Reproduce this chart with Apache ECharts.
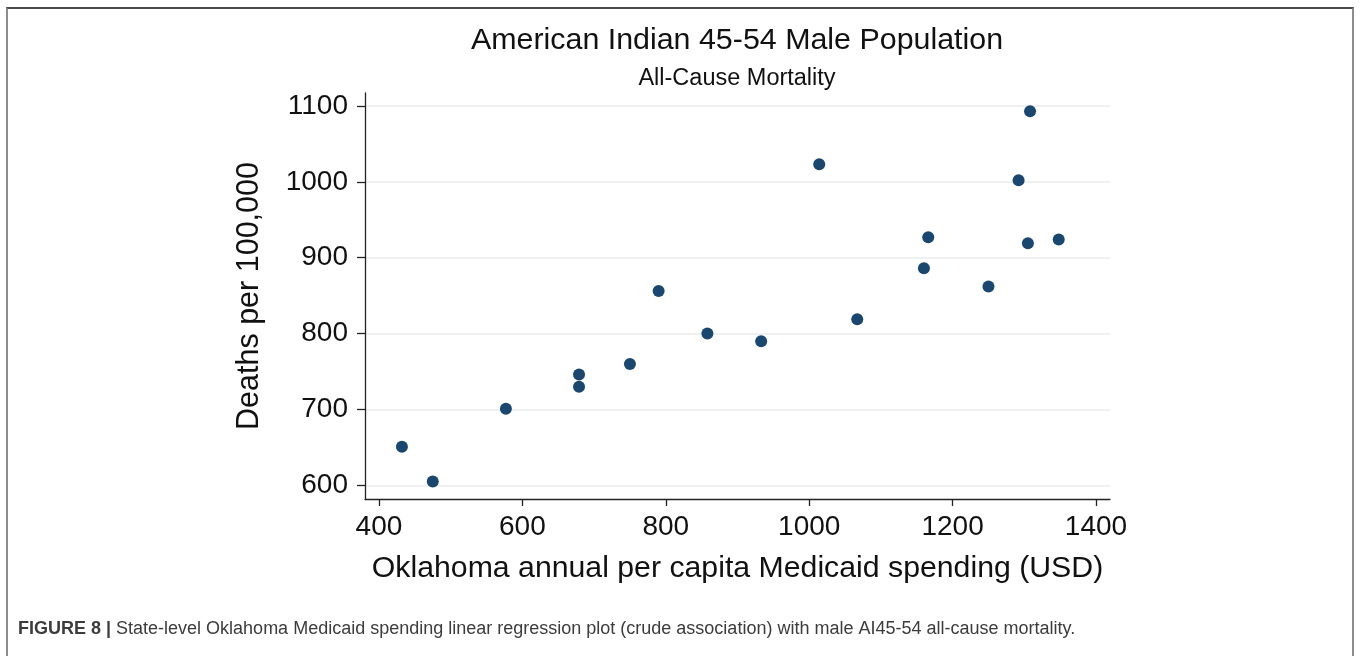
<!DOCTYPE html>
<html>
<head>
<meta charset="utf-8">
<script src="https://cdn.jsdelivr.net/npm/echarts@6/dist/echarts.min.js"></script>
<style>
  html, body { margin: 0; padding: 0; background: #fff; }
  #wrap { position: relative; width: 1360px; height: 656px; overflow: hidden; }
  #frame { position: absolute; left: 6px; top: 7px; width: 1348px; height: 700px;
           border-top: 2px solid #4a4a4a; border-left: 2px solid #8c8c8c; border-right: 2px solid #8c8c8c;
           box-sizing: border-box; pointer-events: none; }
  #chart { position: absolute; left: 0; top: 0; width: 1360px; height: 656px; }
</style>
</head>
<body>
<div id="wrap">
  <div id="chart"></div>
  <div id="frame"></div>
</div>
<script>
// ---- data ----
const spending = [432, 475, 577, 679, 679, 750, 790, 858, 933, 1014, 1067, 1160, 1166, 1250, 1292, 1308, 1305, 1348];
const deaths   = [651, 605, 701, 746, 730, 760, 856, 800, 790, 1023, 819, 886, 927, 862, 1002, 1093, 919, 924];
const xTicks = [400, 600, 800, 1000, 1200, 1400];
const yTicks = [600, 700, 800, 900, 1000, 1100];
const titleText = 'American Indian 45-54 Male Population';
const subtitleText = 'All-Cause Mortality';
const xName = 'Oklahoma annual per capita Medicaid spending (USD)';
const yName = 'Deaths per 100,000';
const captionLabel = 'FIGURE 8 |';
const captionText = 'State-level Oklahoma Medicaid spending linear regression plot (crude association) with male AI45-54 all-cause mortality.';

const points = spending.map((x, i) => [x, deaths[i]]);
const FONT = "'Liberation Sans', Arial, sans-serif";
const plain = v => String(v);

const chart = echarts.init(document.getElementById('chart'), null, { renderer: 'canvas' });
chart.setOption({
  animation: false,
  backgroundColor: '#ffffff',
  title: [
    { text: titleText, left: 732, top: 21, textAlign: 'center',
      textStyle: { fontFamily: FONT, fontSize: 30.4, fontWeight: 'normal', color: '#111' } },
    { text: subtitleText, left: 732, top: 62, textAlign: 'center',
      textStyle: { fontFamily: FONT, fontSize: 23.5, fontWeight: 'normal', color: '#111' } },
    { text: '{b|' + captionLabel + '} ' + captionText, left: 13, top: 615,
      textStyle: { fontFamily: FONT, fontSize: 18, fontWeight: 'normal', color: '#3c3c3c',
        rich: { b: { fontFamily: FONT, fontSize: 18, fontWeight: 'bold', color: '#3c3c3c' } } } }
  ],
  grid: { left: 365, right: 250, top: 93, bottom: 157, containLabel: false },
  xAxis: {
    type: 'value', min: 380.5, max: 1419.5,
    name: xName, nameLocation: 'middle', nameGap: 55,
    nameTextStyle: { fontFamily: FONT, fontSize: 30.25, color: '#111' },
    axisLine: { show: true, onZero: false, lineStyle: { color: '#222', width: 1.3 } },
    axisTick: { show: true, length: 7, customValues: xTicks, lineStyle: { color: '#222', width: 1.3 } },
    axisLabel: { customValues: xTicks, formatter: plain, margin: 14, fontFamily: FONT, fontSize: 28, color: '#111' },
    splitLine: { show: false }
  },
  yAxis: {
    type: 'value', min: 582, max: 1117,
    name: yName, nameLocation: 'middle', nameGap: 100, nameRotate: 90,
    nameTextStyle: { fontFamily: FONT, fontSize: 30.5, color: '#111' },
    axisLine: { show: true, onZero: false, lineStyle: { color: '#222', width: 1.3 } },
    axisTick: { show: true, length: 8, customValues: yTicks, lineStyle: { color: '#222', width: 1.3 } },
    axisLabel: { customValues: yTicks, formatter: plain, margin: 17, fontFamily: FONT, fontSize: 28, color: '#111' },
    splitLine: { show: true, lineStyle: { color: '#ebebeb', width: 1.5 } }
  },
  series: [{
    type: 'scatter',
    data: points,
    symbol: 'circle',
    symbolSize: 12,
    itemStyle: { color: '#1a476f', opacity: 1 },
    emphasis: { disabled: true }
  }]
});
</script>
</body>
</html>
